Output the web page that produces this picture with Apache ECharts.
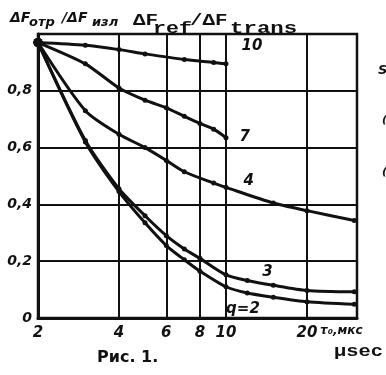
<!DOCTYPE html>
<html>
<head>
<meta charset="utf-8">
<script src="https://cdn.jsdelivr.net/npm/echarts@6/dist/echarts.min.js"></script>
<style>
  html, body { margin: 0; padding: 0; background: #fff; }
  #chart { width: 386px; height: 375px; }
</style>
</head>
<body>
<div id="chart"></div>
<script>
// pulse length τ0, μsec (log axis) vs ΔFотр/ΔFизл
const xCurve10 = [2, 3, 4, 5, 7, 9, 10]
const yCurve10 = [0.97, 0.96, 0.945, 0.93, 0.91, 0.9, 0.895]

const xCurve7 = [2, 3, 4, 5, 6, 7, 8, 9, 10]
const yCurve7 = [0.97, 0.895, 0.81, 0.767, 0.74, 0.71, 0.685, 0.665, 0.635]

const xCurve4 = [2, 3, 4, 5, 6, 7, 9, 10, 15, 20, 30]
const yCurve4 = [0.97, 0.73, 0.647, 0.6, 0.555, 0.515, 0.475, 0.46, 0.405, 0.378, 0.343]

const xCurve3 = [2, 3, 4, 5, 6, 7, 8, 10, 12, 15, 20, 30]
const yCurve3 = [0.97, 0.625, 0.455, 0.36, 0.29, 0.243, 0.21, 0.152, 0.132, 0.115, 0.097, 0.092]

const xCurve2 = [2, 3, 4, 5, 6, 7, 8, 10, 12, 15, 20, 30]
const yCurve2 = [0.97, 0.62, 0.445, 0.335, 0.255, 0.205, 0.165, 0.11, 0.088, 0.073, 0.057, 0.048]

const xTicks = [2, 4, 6, 8, 10, 20]
const gridX = [4, 6, 8, 10, 20]

const ink = '#111'
const labelFont = {
  color: ink,
  fontStyle: 'italic',
  fontWeight: 'bold',
  fontSize: 15,
  fontFamily: 'DejaVu Sans'
}

// one curve, with its number written next to one chosen point
function makeSeries(name, xs, ys, labelIdx, position, offset) {
  return {
    name: name,
    type: 'line',
    data: xs.map((x, i) => [x, ys[i]]),
    smooth: 0.25,
    symbol: 'circle',
    symbolSize: (v, p) => (p.dataIndex === 0 ? 9 : 5),
    lineStyle: { color: ink, width: 3 },
    itemStyle: { color: ink },
    label: Object.assign({
      show: true,
      position: position,
      offset: offset,
      formatter: p => (p.dataIndex === labelIdx ? name : '')
    }, labelFont)
  }
}

const series = [
  makeSeries('10', xCurve10, yCurve10, xCurve10.length - 1, 'right', [8, -18]),
  makeSeries('7', xCurve7, yCurve7, xCurve7.length - 1, 'right', [6, -1]),
  makeSeries('4', xCurve4, yCurve4, xCurve4.indexOf(10), 'right', [10, -6]),
  makeSeries('3', xCurve3, yCurve3, xCurve3.indexOf(15), 'top', [-6, 2]),
  makeSeries('q=2', xCurve2, yCurve2, xCurve2.indexOf(10), 'bottom', [17, 7])
]

// vertical grid lines at 4, 6, 8, 10, 20
series[0].markLine = {
  silent: true,
  symbol: ['none', 'none'],
  label: { show: false },
  lineStyle: { color: ink, width: 2, type: 'solid' },
  data: gridX.map(v => ({ xAxis: v }))
}

function txt(x, y, text, size, family, extra) {
  return {
    type: 'text',
    x: x,
    y: y,
    style: Object.assign({
      text: text,
      fill: ink,
      fontSize: size,
      fontFamily: family,
      verticalAlign: 'top'
    }, extra || {})
  }
}

const italicB = { fontStyle: 'italic', fontWeight: 'bold' }
const bold = { fontWeight: 'bold' }
const mono = 'Liberation Mono'

const option = {
  backgroundColor: '#fff',
  animation: false,
  grid: {
    left: 38,
    right: 29,
    top: 34,
    bottom: 57,
    show: true,
    borderColor: ink,
    borderWidth: 2.5
  },
  xAxis: {
    type: 'log',
    logBase: 10,
    min: 2,
    max: 30.7,
    axisLine: { lineStyle: { color: ink, width: 3 } },
    axisTick: { show: false },
    splitLine: { show: false },
    minorSplitLine: { show: false },
    axisLabel: Object.assign({
      customValues: xTicks,
      margin: 8,
      fontSize: 15
    }, labelFont)
  },
  yAxis: {
    type: 'value',
    min: 0,
    max: 1,
    interval: 0.2,
    axisLine: { show: true, lineStyle: { color: ink, width: 3 } },
    axisTick: { show: false },
    splitLine: { lineStyle: { color: ink, width: 2 } },
    axisLabel: Object.assign({}, labelFont, {
      fontSize: 14,
      margin: 6,
      formatter: v => (v >= 1 ? '' : String(+v.toFixed(1)).replace('.', ','))
    })
  },
  graphic: [
    // original axis title ΔFотр/ΔFизл
    txt(10, 11, 'ΔF', 14, 'DejaVu Sans', italicB),
    txt(29, 16, 'отр', 13, 'DejaVu Sans', italicB),
    txt(62, 11, '/ΔF', 14, 'DejaVu Sans', italicB),
    txt(92, 16, 'изл', 13, 'DejaVu Sans', italicB),
    // typed English overlay
    Object.assign(txt(133, 13, 'ΔF', 16, mono, bold), { scaleX: 1.3 }),
    Object.assign(txt(153, 21, 'ref', 16, mono, bold), { scaleX: 1.35 }),
    Object.assign(txt(190, 13, '/ΔF', 16, mono, bold), { scaleX: 1.3 }),
    Object.assign(txt(230, 21, 'trans', 16, mono, bold), { scaleX: 1.4 }),
    // x axis name
    txt(320, 325, 'τ₀,мкс', 12, 'DejaVu Sans', italicB),
    Object.assign(txt(334, 343, 'μsec', 17, mono, bold), { scaleX: 1.2 }),
    // caption
    txt(97, 350, 'Рис. 1.', 16, 'DejaVu Sans', bold),
    // clipped text of the next column
    txt(378, 64, 'S', 13, 'DejaVu Sans', italicB),
    txt(382, 115, '(', 11, 'DejaVu Sans', italicB),
    txt(382, 167, '(', 11, 'DejaVu Sans', italicB)
  ],
  series: series
}

const myChart = echarts.init(document.getElementById('chart'))
myChart.setOption(option)
</script>
</body>
</html>
